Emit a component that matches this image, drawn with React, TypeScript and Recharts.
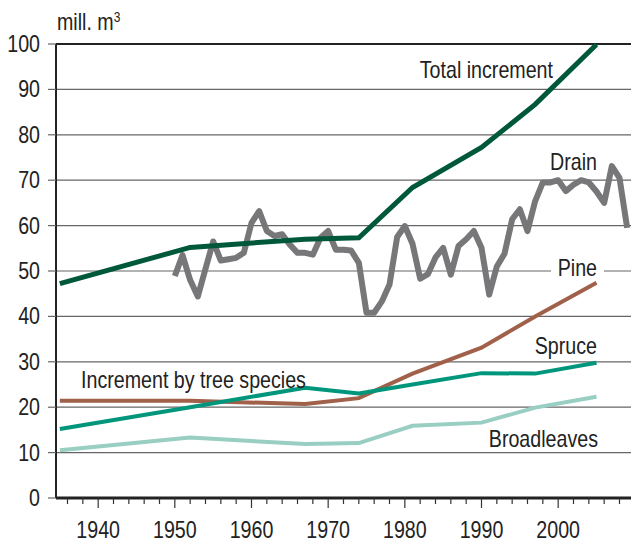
import { CartesianGrid, Line, LineChart, ReferenceLine, XAxis, YAxis } from "recharts";

const FONT = '"Liberation Sans", Arial, sans-serif';
const SQUEEZE = 0.855;

// inventory years used by the increment series
const incYears = [1935, 1952, 1967, 1974, 1981, 1990, 1997, 2005];
const totalIncrement = [47.2, 55.2, 57.0, 57.3, 68.4, 77.2, 86.7, 99.9];
const pine = [21.4, 21.4, 20.7, 22.0, 27.4, 33.1, 40.0, 47.4];
const spruce = [15.2, 20.0, 24.3, 23.0, 25.0, 27.5, 27.4, 29.8];
const broadleaves = [10.5, 13.3, 11.9, 12.1, 15.9, 16.6, 19.9, 22.3];

// annual drain 1950-2009
const drainStart = 1950;
const drain = [
  48.9, 53.5, 48.0, 44.4, 50.5, 56.5, 52.3, 52.6, 52.9, 54.0,
  60.6, 63.2, 58.8, 57.7, 58.1, 55.8, 54.0, 54.0, 53.6, 57.3,
  58.8, 54.7, 54.7, 54.5, 51.8, 40.8, 40.8, 43.3, 47.0, 57.5,
  59.9, 56.0, 48.3, 49.3, 53.0, 55.1, 49.2, 55.5, 57.0, 58.8,
  55.1, 44.8, 51.0, 53.8, 61.4, 63.6, 58.8, 65.4, 69.5, 69.5,
  70.0, 67.6, 69.0, 70.0, 69.5, 67.5, 65.0, 73.1, 70.5, 59.5,
];

const yTicks = [0, 10, 20, 30, 40, 50, 60, 70, 80, 90, 100];
const xTicks = Array.from({ length: 37 }, (_, i) => 1936 + i * 2);

const toRows = (vals: number[]) => incYears.map((year, i) => ({ year, v: vals[i] }));
const drainRows = drain.map((v, i) => ({ year: drainStart + i, v }));

// narrow text: Arial squeezed horizontally like a condensed face
const NText = ({ x, y, anchor = "start", size = 23, children }: any) => (
  <text
    transform={`translate(${x},${y}) scale(${SQUEEZE},1)`}
    textAnchor={anchor}
    fontSize={size}
    fontFamily={FONT}
    fill="#222"
  >
    {children}
  </text>
);

const XTick = (props: any) => {
  const { x, y, payload } = props;
  const major = payload.value % 10 === 0;
  return (
    <g>
      <line x1={x} x2={x} y1={y} y2={y + (major ? 10 : 6)} stroke="#333" strokeWidth={1.2} />
      {major && (
        <NText x={x} y={y + 40} anchor="middle">
          {payload.value}
        </NText>
      )}
    </g>
  );
};

const YTick = (props: any) => {
  const { x, y, payload } = props;
  return (
    <NText x={x} y={y + 8} anchor="end">
      {payload.value}
    </NText>
  );
};

export default function App() {
  return (
    <div style={{ position: "absolute", left: 0, top: 0, width: 631, height: 543, background: "#fff" }}>
      <LineChart width={631} height={543} margin={{ top: 44, right: 0, bottom: 0, left: 0 }}>
        <CartesianGrid horizontal vertical={false} stroke="#666" strokeWidth={1.2} />
        <XAxis
          dataKey="year"
          type="number"
          domain={[1934.5, 2009.5]}
          ticks={xTicks}
          interval={0}
          height={45}
          tickSize={0}
          tickMargin={0}
          tickLine={false}
          tick={<XTick />}
          axisLine={{ stroke: "#222", strokeWidth: 3 }}
          allowDuplicatedCategory={false}
        />
        <YAxis
          type="number"
          domain={[0, 100]}
          ticks={yTicks}
          interval={0}
          width={56}
          tickSize={8}
          tickMargin={8}
          tickLine={{ stroke: "#666", strokeWidth: 1.2 }}
          axisLine={{ stroke: "#222", strokeWidth: 2 }}
          tick={<YTick />}
        />
        <ReferenceLine y={100} stroke="#222" strokeWidth={2} />
        <Line data={toRows(broadleaves)} dataKey="v" stroke="#99CEC2" strokeWidth={4} dot={false} isAnimationActive={false} />
        <Line data={toRows(pine)} dataKey="v" stroke="#A0604A" strokeWidth={4} dot={false} isAnimationActive={false} />
        <Line data={toRows(spruce)} dataKey="v" stroke="#00967C" strokeWidth={4} dot={false} isAnimationActive={false} />
        <Line data={drainRows} dataKey="v" stroke="#77777A" strokeWidth={6} strokeLinejoin="round" dot={false} isAnimationActive={false} />
        <Line data={toRows(totalIncrement)} dataKey="v" stroke="#00583A" strokeWidth={5} dot={false} isAnimationActive={false} />
      </LineChart>
      <svg width={631} height={543} style={{ position: "absolute", left: 0, top: 0, pointerEvents: "none" }}>
        <NText x={57} y={30}>
          mill. m<tspan fontSize={14} dy={-8}>3</tspan>
        </NText>
        <NText x={553} y={78} anchor="end">Total increment</NText>
        <NText x={597} y={170} anchor="end">Drain</NText>
        <rect x={551} y={258} width={53} height={22} fill="#fff" />
        <NText x={597} y={276} anchor="end">Pine</NText>
        <NText x={597} y={354} anchor="end">Spruce</NText>
        <NText x={81} y={388}>Increment by tree species</NText>
        <NText x={598} y={447} anchor="end">Broadleaves</NText>
      </svg>
    </div>
  );
}
